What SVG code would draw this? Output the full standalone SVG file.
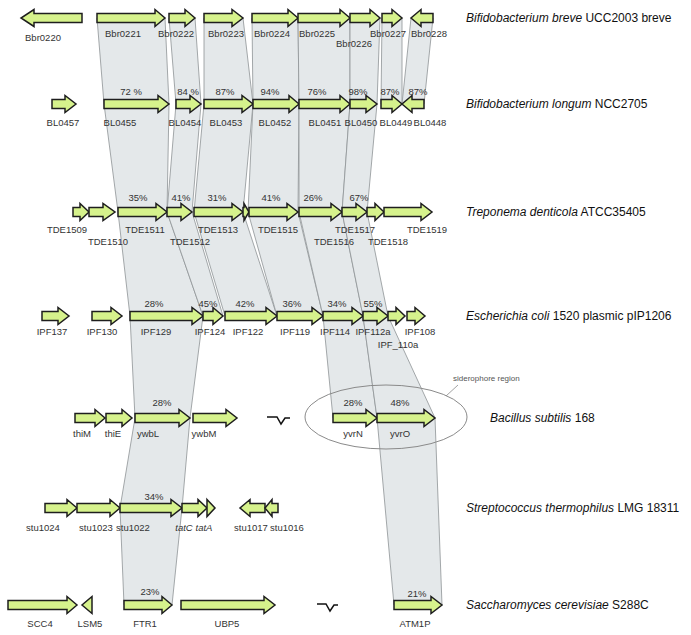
<svg xmlns="http://www.w3.org/2000/svg" width="691" height="635" viewBox="0 0 691 635">
<style>
.band{fill:#e4e8ea;stroke:#8e9396;stroke-width:0.8}
.arr{fill:#d6f28c;stroke:#1e1e1e;stroke-width:1.5;stroke-linejoin:miter}
.g{font-family:"Liberation Sans",Arial,sans-serif;font-size:9.5px;fill:#333;text-anchor:middle}
.p{font-family:"Liberation Sans",Arial,sans-serif;font-size:9.5px;fill:#333;text-anchor:middle}
.sp{font-family:"Liberation Sans",Arial,sans-serif;font-size:12px;fill:#111}
.brk{fill:none;stroke:#111;stroke-width:1.5}
.note{font-family:"Liberation Sans",Arial,sans-serif;font-size:8px;fill:#555}
</style>
<rect width="691" height="635" fill="#fff"/>
<g id="connectors">
<polygon class="band" points="97,18 165,18 169,104 104,104"/>
<polygon class="band" points="169,18 195,18 201,104 176,104"/>
<polygon class="band" points="204,18 243,18 253,104 204,104"/>
<polygon class="band" points="252,18 298,18 299,104 253,104"/>
<polygon class="band" points="298,18 350,18 350,104 299,104"/>
<polygon class="band" points="350,18 380,18 377,104 350,104"/>
<polygon class="band" points="382,18 402,18 402,104 381,104"/>
<polygon class="band" points="411,18 433,18 424,104 402,104"/>
<polygon class="band" points="104,104 169,104 167,212 118,212"/>
<polygon class="band" points="176,104 201,104 192,212 167,212"/>
<polygon class="band" points="204,104 253,104 243,212 194,212"/>
<polygon class="band" points="253,104 299,104 298,212 248,212"/>
<polygon class="band" points="299,104 350,104 342,212 299,212"/>
<polygon class="band" points="350,104 377,104 367,212 342,212"/>
<polygon class="band" points="118,212 167,212 203,316 130,316"/>
<polygon class="band" points="167,212 192,212 223,316 203,316"/>
<polygon class="band" points="194,212 243,212 277,316 225,316"/>
<polygon class="band" points="248,212 298,212 323,316 277,316"/>
<polygon class="band" points="299,212 342,212 363,316 323,316"/>
<polygon class="band" points="342,212 367,212 388,316 363,316"/>
<polygon class="band" points="130,316 203,316 190,418 135,418"/>
<polygon class="band" points="323,316 363,316 377,418 333,418"/>
<polygon class="band" points="363,316 388,316 435,418 377,418"/>
<polygon class="band" points="135,418 190,418 182,508 120,508"/>
<polygon class="band" points="120,508 182,508 172,605 124,605"/>
<polygon class="band" points="377,418 435,418 442,605 394,605"/>
</g>
<g id="siderophore-region">
<ellipse cx="386" cy="417" rx="81" ry="32" fill="none" stroke="#8a8a8a" stroke-width="1"/>
<line x1="446" y1="396" x2="458" y2="385" stroke="#8a8a8a" stroke-width="0.8"/>
<text class="note" x="453" y="381">siderophore region</text>
</g>
<g id="row1">
<g id="Bbr0220"><polygon class="arr" points="82,13.5 34,13.5 34,9.5 21,18 34,26.5 34,22.5 82,22.5"/><text class="g" x="43" y="40.5">Bbr0220</text></g>
<g id="Bbr0221"><polygon class="arr" points="97,13.5 155,13.5 155,9.5 165,18 155,26.5 155,22.5 97,22.5"/><text class="g" x="123" y="36.5">Bbr0221</text></g>
<g id="Bbr0222"><polygon class="arr" points="169,13.5 185,13.5 185,9.5 195,18 185,26.5 185,22.5 169,22.5"/><text class="g" x="176" y="36.5">Bbr0222</text></g>
<g id="Bbr0223"><polygon class="arr" points="204,13.5 232,13.5 232,9.5 243,18 232,26.5 232,22.5 204,22.5"/><text class="g" x="226" y="36.5">Bbr0223</text></g>
<g id="Bbr0224"><polygon class="arr" points="252,13.5 288,13.5 288,9.5 298,18 288,26.5 288,22.5 252,22.5"/><text class="g" x="272" y="36.5">Bbr0224</text></g>
<g id="Bbr0225"><polygon class="arr" points="298,13.5 340,13.5 340,9.5 350,18 340,26.5 340,22.5 298,22.5"/><text class="g" x="317" y="36.5">Bbr0225</text></g>
<g id="Bbr0226"><polygon class="arr" points="350,13.5 370,13.5 370,9.5 380,18 370,26.5 370,22.5 350,22.5"/><text class="g" x="354" y="46.5">Bbr0226</text></g>
<g id="Bbr0227"><polygon class="arr" points="382,13.5 392,13.5 392,9.5 402,18 392,26.5 392,22.5 382,22.5"/><text class="g" x="388" y="36.5">Bbr0227</text></g>
<g id="Bbr0228"><polygon class="arr" points="433,13.5 421,13.5 421,9.5 411,18 421,26.5 421,22.5 433,22.5"/><text class="g" x="429" y="36.5">Bbr0228</text></g>
<text class="sp" x="466" y="22"><tspan font-style="italic">Bifidobacterium breve</tspan> UCC2003 breve</text>
</g>
<g id="row2">
<g id="BL0457"><polygon class="arr" points="52,99.5 65,99.5 65,95.5 76,104 65,112.5 65,108.5 52,108.5"/><text class="g" x="63" y="125.5">BL0457</text></g>
<g id="BL0455"><polygon class="arr" points="104,99.5 158,99.5 158,95.5 169,104 158,112.5 158,108.5 104,108.5"/><text class="p" x="131" y="94.5">72 %</text><text class="g" x="120" y="125.5">BL0455</text></g>
<g id="BL0454"><polygon class="arr" points="176,99.5 190,99.5 190,95.5 201,104 190,112.5 190,108.5 176,108.5"/><text class="p" x="188" y="94.5">84 %</text><text class="g" x="185" y="125.5">BL0454</text></g>
<g id="BL0453"><polygon class="arr" points="204,99.5 242,99.5 242,95.5 253,104 242,112.5 242,108.5 204,108.5"/><text class="p" x="225" y="94.5">87%</text><text class="g" x="226" y="125.5">BL0453</text></g>
<g id="BL0452"><polygon class="arr" points="253,99.5 289,99.5 289,95.5 299,104 289,112.5 289,108.5 253,108.5"/><text class="p" x="270" y="94.5">94%</text><text class="g" x="275" y="125.5">BL0452</text></g>
<g id="BL0451"><polygon class="arr" points="299,99.5 340,99.5 340,95.5 350,104 340,112.5 340,108.5 299,108.5"/><text class="p" x="317" y="94.5">76%</text><text class="g" x="325" y="125.5">BL0451</text></g>
<g id="BL0450"><polygon class="arr" points="350,99.5 366,99.5 366,95.5 377,104 366,112.5 366,108.5 350,108.5"/><text class="p" x="358" y="94.5">98%</text><text class="g" x="361" y="125.5">BL0450</text></g>
<g id="BL0449"><polygon class="arr" points="381,99.5 392,99.5 392,95.5 402,104 392,112.5 392,108.5 381,108.5"/><text class="p" x="390" y="94.5">87%</text><text class="g" x="396" y="125.5">BL0449</text></g>
<g id="BL0448"><polygon class="arr" points="424,99.5 412,99.5 412,95.5 402,104 412,112.5 412,108.5 424,108.5"/><text class="p" x="418" y="94.5">87%</text><text class="g" x="430" y="125.5">BL0448</text></g>
<text class="sp" x="466" y="108"><tspan font-style="italic">Bifidobacterium longum</tspan> NCC2705</text>
</g>
<g id="row3">
<g id="TDE1509"><polygon class="arr" points="73,207.5 80,207.5 80,203.5 89,212 80,220.5 80,216.5 73,216.5"/><text class="g" x="67" y="232.5">TDE1509</text></g>
<g id="TDE1510"><polygon class="arr" points="89,207.5 103,207.5 103,203.5 115,212 103,220.5 103,216.5 89,216.5"/><text class="g" x="108" y="244.5">TDE1510</text></g>
<g id="TDE1511"><polygon class="arr" points="118,207.5 156,207.5 156,203.5 167,212 156,220.5 156,216.5 118,216.5"/><text class="p" x="138" y="200.5">35%</text><text class="g" x="145" y="232.5">TDE1511</text></g>
<g id="TDE1512"><polygon class="arr" points="167,207.5 181,207.5 181,203.5 192,212 181,220.5 181,216.5 167,216.5"/><text class="p" x="181" y="200.5">41%</text><text class="g" x="190" y="244.5">TDE1512</text></g>
<g id="TDE1513"><polygon class="arr" points="194,207.5 232,207.5 232,203.5 243,212 232,220.5 232,216.5 194,216.5"/><text class="p" x="217" y="200.5">31%</text><text class="g" x="218" y="232.5">TDE1513</text></g>
<g id="TDE1514"><polygon class="arr" points="243,207.5 244,207.5 244,203.5 249,212 244,220.5 244,216.5 243,216.5"/></g>
<g id="TDE1515"><polygon class="arr" points="249,207.5 287,207.5 287,203.5 298,212 287,220.5 287,216.5 249,216.5"/><text class="p" x="271" y="200.5">41%</text><text class="g" x="278" y="232.5">TDE1515</text></g>
<g id="TDE1516"><polygon class="arr" points="299,207.5 331,207.5 331,203.5 342,212 331,220.5 331,216.5 299,216.5"/><text class="p" x="313" y="200.5">26%</text><text class="g" x="334" y="244.5">TDE1516</text></g>
<g id="TDE1517"><polygon class="arr" points="342,207.5 356,207.5 356,203.5 367,212 356,220.5 356,216.5 342,216.5"/><text class="p" x="359" y="200.5">67%</text><text class="g" x="355" y="232.5">TDE1517</text></g>
<g id="TDE1518"><polygon class="arr" points="367,207.5 375,207.5 375,203.5 384,212 375,220.5 375,216.5 367,216.5"/><text class="g" x="388" y="244.5">TDE1518</text></g>
<g id="TDE1519"><polygon class="arr" points="384,207.5 421,207.5 421,203.5 432,212 421,220.5 421,216.5 384,216.5"/><text class="g" x="427" y="232.5">TDE1519</text></g>
<text class="sp" x="466" y="216"><tspan font-style="italic">Treponema denticola</tspan> ATCC35405</text>
</g>
<g id="row4">
<g id="IPF137"><polygon class="arr" points="42,311.5 58,311.5 58,307.5 69,316 58,324.5 58,320.5 42,320.5"/><text class="g" x="52" y="334.5">IPF137</text></g>
<g id="IPF130"><polygon class="arr" points="92,311.5 111,311.5 111,307.5 122,316 111,324.5 111,320.5 92,320.5"/><text class="g" x="102" y="334.5">IPF130</text></g>
<g id="IPF129"><polygon class="arr" points="130,311.5 192,311.5 192,307.5 203,316 192,324.5 192,320.5 130,320.5"/><text class="p" x="154" y="306.5">28%</text><text class="g" x="156" y="334.5">IPF129</text></g>
<g id="IPF124"><polygon class="arr" points="203,311.5 213,311.5 213,307.5 223,316 213,324.5 213,320.5 203,320.5"/><text class="p" x="208" y="306.5">45%</text><text class="g" x="210" y="334.5">IPF124</text></g>
<g id="IPF122"><polygon class="arr" points="225,311.5 266,311.5 266,307.5 277,316 266,324.5 266,320.5 225,320.5"/><text class="p" x="245" y="306.5">42%</text><text class="g" x="248" y="334.5">IPF122</text></g>
<g id="IPF119"><polygon class="arr" points="277,311.5 312,311.5 312,307.5 323,316 312,324.5 312,320.5 277,320.5"/><text class="p" x="292" y="306.5">36%</text><text class="g" x="295" y="334.5">IPF119</text></g>
<g id="IPF114"><polygon class="arr" points="323,311.5 352,311.5 352,307.5 363,316 352,324.5 352,320.5 323,320.5"/><text class="p" x="337" y="306.5">34%</text><text class="g" x="335" y="334.5">IPF114</text></g>
<g id="IPF112a"><polygon class="arr" points="363,311.5 377,311.5 377,307.5 388,316 377,324.5 377,320.5 363,320.5"/><text class="p" x="373" y="306.5">55%</text><text class="g" x="373" y="334.5">IPF112a</text></g>
<g id="IPF_110a"><polygon class="arr" points="388,311.5 396,311.5 396,307.5 405,316 396,324.5 396,320.5 388,320.5"/><text class="g" x="398" y="347.5">IPF_110a</text></g>
<g id="IPF108"><polygon class="arr" points="407,311.5 415,311.5 415,307.5 425,316 415,324.5 415,320.5 407,320.5"/><text class="g" x="420" y="334.5">IPF108</text></g>
<text class="sp" x="466" y="320"><tspan font-style="italic">Escherichia coli</tspan> 1520 plasmic pIP1206</text>
</g>
<g id="row5">
<g id="thiM"><polygon class="arr" points="75,413.5 95,413.5 95,409.5 105,418 95,426.5 95,422.5 75,422.5"/><text class="g" x="82" y="436.5">thiM</text></g>
<g id="thiE"><polygon class="arr" points="106,413.5 122,413.5 122,409.5 132,418 122,426.5 122,422.5 106,422.5"/><text class="g" x="113" y="436.5">thiE</text></g>
<g id="ywbL"><polygon class="arr" points="135,413.5 179,413.5 179,409.5 190,418 179,426.5 179,422.5 135,422.5"/><text class="p" x="162" y="405.5">28%</text><text class="g" x="148" y="436.5">ywbL</text></g>
<g id="ywbM"><polygon class="arr" points="193,413.5 226,413.5 226,409.5 237,418 226,426.5 226,422.5 193,422.5"/><text class="g" x="204" y="436.5">ywbM</text></g>
<path class="brk" d="M267,417 H277 L281,424 L285,418 H290"/>
<g id="yvrN"><polygon class="arr" points="333,413.5 366,413.5 366,409.5 377,418 366,426.5 366,422.5 333,422.5"/><text class="p" x="353" y="405.5">28%</text><text class="g" x="353" y="436.5">yvrN</text></g>
<g id="yvrO"><polygon class="arr" points="377,413.5 424,413.5 424,409.5 435,418 424,426.5 424,422.5 377,422.5"/><text class="p" x="400" y="405.5">48%</text><text class="g" x="400" y="436.5">yvrO</text></g>
<text class="sp" x="490" y="422"><tspan font-style="italic">Bacillus subtilis</tspan> 168</text>
</g>
<g id="row6">
<g id="stu1024"><polygon class="arr" points="45,503.5 67,503.5 67,499.5 77,508 67,516.5 67,512.5 45,512.5"/><text class="g" x="43" y="530.5">stu1024</text></g>
<g id="stu1023"><polygon class="arr" points="77,503.5 110,503.5 110,499.5 120,508 110,516.5 110,512.5 77,512.5"/><text class="g" x="96" y="530.5">stu1023</text></g>
<g id="stu1022"><polygon class="arr" points="120,503.5 171,503.5 171,499.5 182,508 171,516.5 171,512.5 120,512.5"/><text class="p" x="154" y="499.5">34%</text><text class="g" x="133" y="530.5">stu1022</text></g>
<g id="tatC"><polygon class="arr" points="182,503.5 198,503.5 198,499.5 207,508 198,516.5 198,512.5 182,512.5"/><text class="g" x="184" y="530.5" font-style="italic">tatC</text></g>
<g id="tatA"><polygon class="arr" points="207,499.5 215,508 207,516.5"/><text class="g" x="204" y="530.5" font-style="italic">tatA</text></g>
<g id="stu1017"><polygon class="arr" points="265,503.5 250,503.5 250,499.5 240,508 250,516.5 250,512.5 265,512.5"/><text class="g" x="251" y="530.5">stu1017</text></g>
<g id="stu1016"><polygon class="arr" points="278,503.5 272,503.5 272,499.5 265,508 272,516.5 272,512.5 278,512.5"/><text class="g" x="287" y="530.5">stu1016</text></g>
<text class="sp" x="466" y="512"><tspan font-style="italic">Streptococcus thermophilus</tspan> LMG 18311</text>
</g>
<g id="row7">
<g id="SCC4"><polygon class="arr" points="8,600.5 67,600.5 67,596.5 77,605 67,613.5 67,609.5 8,609.5"/><text class="g" x="40" y="626.5">SCC4</text></g>
<g id="LSM5"><polygon class="arr" points="92,596.5 82,605 92,613.5"/><text class="g" x="90" y="626.5">LSM5</text></g>
<g id="FTR1"><polygon class="arr" points="124,600.5 162,600.5 162,596.5 172,605 162,613.5 162,609.5 124,609.5"/><text class="p" x="150" y="594.5">23%</text><text class="g" x="145" y="626.5">FTR1</text></g>
<g id="UBP5"><polygon class="arr" points="181,600.5 264,600.5 264,596.5 275,605 264,613.5 264,609.5 181,609.5"/><text class="g" x="227" y="626.5">UBP5</text></g>
<path class="brk" d="M317,604 H326 L330,611 L334,605 H338"/>
<g id="ATM1P"><polygon class="arr" points="394,600.5 431,600.5 431,596.5 442,605 431,613.5 431,609.5 394,609.5"/><text class="p" x="417" y="596.5">21%</text><text class="g" x="415" y="626.5">ATM1P</text></g>
<text class="sp" x="466" y="609"><tspan font-style="italic">Saccharomyces cerevisiae</tspan> S288C</text>
</g>
</svg>
